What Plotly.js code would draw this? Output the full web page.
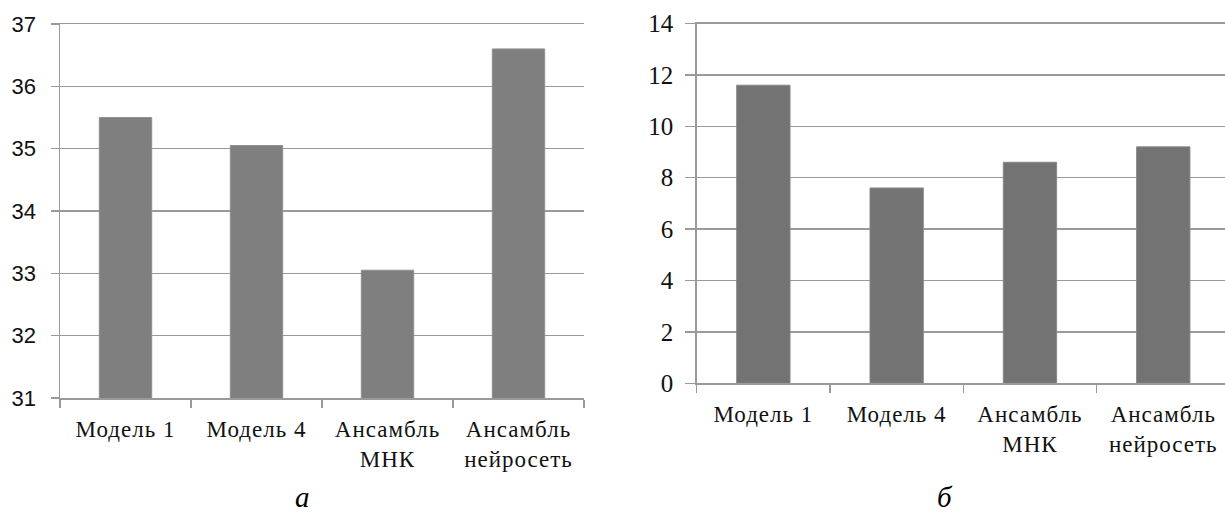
<!DOCTYPE html>
<html>
<head>
<meta charset="utf-8">
<script src="https://cdn.plot.ly/plotly-3.0.1.min.js"></script>
<style>
  html, body { margin: 0; padding: 0; background: #fff; }
  #chart { width: 1225px; height: 515px; }
  .xtick text, .x2tick text { letter-spacing: 1px; }
</style>
</head>
<body>
<div id="chart"></div>
<script>
// Data
const categories = ['Модель 1', 'Модель 4', 'Ансамбль<br>МНК', 'Ансамбль<br>нейросеть'];
const valuesA = [35.5, 35.05, 33.05, 36.6];
const valuesB = [11.6, 7.6, 8.6, 9.2];
const captionA = 'а';
const captionB = 'б';
const ticksA = [31, 32, 33, 34, 35, 36, 37];
const ticksB = [0, 2, 4, 6, 8, 10, 12, 14];

const W = 1225, H = 515;
const px = v => v / W;
const py = v => 1 - v / H;

const gridColor = '#9a9a9a';
const SERIF = 'Liberation Serif';
const SANS = 'Liberation Sans';

const traces = [
  {
    type: 'bar', x: categories, y: valuesA, xaxis: 'x', yaxis: 'y',
    marker: { color: '#7f7f7f', line: { color: '#8f8f8f', width: 1 } },
    hoverinfo: 'skip', showlegend: false
  },
  {
    type: 'bar', x: categories, y: valuesB, xaxis: 'x2', yaxis: 'y2',
    marker: { color: '#737373', line: { color: '#888888', width: 1 } },
    hoverinfo: 'skip', showlegend: false
  }
];

function xAxis(domain, range, anchor) {
  return {
    type: 'category', tickson: 'boundaries', ticks: 'outside', ticklen: 8,
    tickcolor: gridColor, tickwidth: 1.5, showline: true, mirror: true,
    linecolor: gridColor, linewidth: 1.5,
    showgrid: false, zeroline: false, fixedrange: true,
    tickfont: { family: SERIF, size: 23, color: '#111' },
    ticklabelstandoff: 10,
    domain: domain, range: range, anchor: anchor
  };
}

const layout = {
  width: W, height: H,
  margin: { l: 0, r: 0, t: 0, b: 0 },
  paper_bgcolor: '#fff', plot_bgcolor: '#fff',
  font: { family: SERIF, size: 22, color: '#111' },
  bargap: 0.6,
  showlegend: false,
  xaxis: xAxis([px(60), px(584)], [-0.5, 3.5], 'y'),
  yaxis: {
    domain: [py(398), py(24)], range: [31, 37], anchor: 'x',
    tickmode: 'array', tickvals: ticksA,
    ticks: 'outside', ticklen: 8, tickcolor: gridColor, tickwidth: 1.5,
    showline: true, linecolor: gridColor, linewidth: 1.5,
    showgrid: true, gridcolor: gridColor, gridwidth: 1.5, zeroline: false, fixedrange: true,
    tickfont: { family: SANS, size: 22, color: '#111' },
    ticklabelstandoff: 10
  },
  xaxis2: xAxis([px(696.7), 1], [-0.5, 3.463], 'y2'),
  yaxis2: {
    domain: [py(383.3), py(23.5)], range: [0, 14], anchor: 'x2',
    tickmode: 'array', tickvals: ticksB,
    ticks: 'outside', ticklen: 10, tickcolor: gridColor, tickwidth: 1.5,
    showline: true, linecolor: gridColor, linewidth: 1.5,
    showgrid: true, gridcolor: gridColor, gridwidth: 1.5, zeroline: false, fixedrange: true,
    tickfont: { family: SERIF, size: 25, color: '#111' },
    ticklabelstandoff: 7
  },
  annotations: [
    { text: captionA, xref: 'paper', yref: 'paper', x: px(302), y: 0,
      xanchor: 'center', yanchor: 'bottom', showarrow: false,
      font: { family: SERIF, size: 29, style: 'italic', color: '#000' } },
    { text: captionB, xref: 'paper', yref: 'paper', x: px(945), y: 0,
      xanchor: 'center', yanchor: 'bottom', showarrow: false,
      font: { family: SERIF, size: 29, style: 'italic', color: '#000' } }
  ]
};

Plotly.newPlot('chart', traces, layout, { staticPlot: true, displayModeBar: false });
</script>
</body>
</html>
